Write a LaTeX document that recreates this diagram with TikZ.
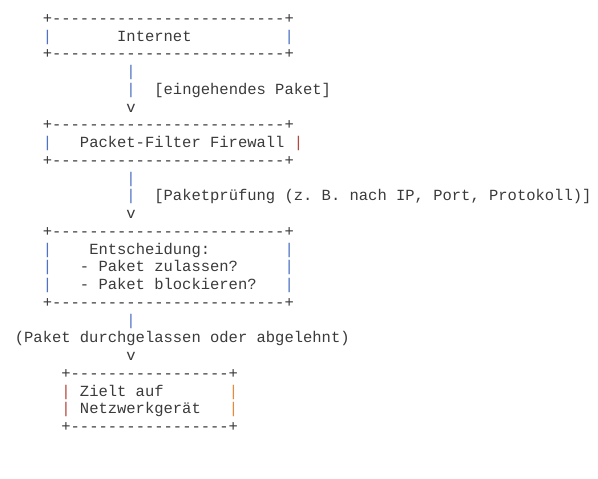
\documentclass[tikz,border=0pt]{standalone}
\usepackage{fontspec}
\setmonofont{Liberation Mono}
\definecolor{ink}{HTML}{3A3A3A}
\definecolor{pipeblue}{HTML}{4F72C2}
\definecolor{pipered}{HTML}{B5473F}
\definecolor{pipeorange}{HTML}{E08C3C}
\tikzset{
  txt/.style={anchor=base west, inner sep=0pt, outer sep=0pt, text=ink,
              font=\fontsize{15.5}{17.7}\selectfont\ttfamily},
  bluepipe/.style={txt, text=pipeblue},
  redpipe/.style={txt, text=pipered},
  orangepipe/.style={txt, text=pipeorange}
}
\newcommand\cellat[2]{({14.85+9.3*#1},{455.5-17.74*#2})}
\begin{document}
\begin{tikzpicture}[x=1pt,y=1pt]
\useasboundingbox (0,0) rectangle (598,479);
\fill[white] (0,0) rectangle (598,479);
% Internet box
\node[txt] (inettop) at \cellat{3}{0} {+-------------------------+};
\node[bluepipe] (inetl) at \cellat{3}{1} {|};
\node[txt] (inet) at \cellat{11}{1} {Internet};
\node[bluepipe] (inetr) at \cellat{29}{1} {|};
\node[txt] (inetbot) at \cellat{3}{2} {+-------------------------+};
% arrow 1
\node[bluepipe] (a1p1) at \cellat{12}{3} {|};
\node[bluepipe] (a1p2) at \cellat{12}{4} {|};
\node[txt] (a1lab) at \cellat{15}{4} {[eingehendes Paket]};
\node[txt] (a1v) at \cellat{12}{5} {v};
% Firewall box
\node[txt] (fwtop) at \cellat{3}{6} {+-------------------------+};
\node[bluepipe] (fwl) at \cellat{3}{7} {|};
\node[txt] (fw) at \cellat{7}{7} {Packet-Filter Firewall};
\node[redpipe] (fwr) at \cellat{30}{7} {|};
\node[txt] (fwbot) at \cellat{3}{8} {+-------------------------+};
% arrow 2
\node[bluepipe] (a2p1) at \cellat{12}{9} {|};
\node[bluepipe] (a2p2) at \cellat{12}{10} {|};
\node[txt] (a2lab) at \cellat{15}{10} {[Paketprüfung (z. B. nach IP, Port, Protokoll)]};
\node[txt] (a2v) at \cellat{12}{11} {v};
% Decision box
\node[txt] (dtop) at \cellat{3}{12} {+-------------------------+};
\node[bluepipe] (dl1) at \cellat{3}{13} {|};
\node[txt] (d1) at \cellat{8}{13} {Entscheidung:};
\node[bluepipe] (dr1) at \cellat{29}{13} {|};
\node[bluepipe] (dl2) at \cellat{3}{14} {|};
\node[txt] (d2) at \cellat{7}{14} {- Paket zulassen?};
\node[bluepipe] (dr2) at \cellat{29}{14} {|};
\node[bluepipe] (dl3) at \cellat{3}{15} {|};
\node[txt] (d3) at \cellat{7}{15} {- Paket blockieren?};
\node[bluepipe] (dr3) at \cellat{29}{15} {|};
\node[txt] (dbot) at \cellat{3}{16} {+-------------------------+};
% arrow 3
\node[bluepipe] (a3p1) at \cellat{12}{17} {|};
\node[txt] (a3lab) at \cellat{0}{18} {(Paket durchgelassen oder abgelehnt)};
\node[txt] (a3v) at \cellat{12}{19} {v};
% Target box
\node[txt] (ttop) at \cellat{5}{20} {+-----------------+};
\node[redpipe] (tl1) at \cellat{5}{21} {|};
\node[txt] (t1) at \cellat{7}{21} {Zielt auf};
\node[orangepipe] (tr1) at \cellat{23}{21} {|};
\node[redpipe] (tl2) at \cellat{5}{22} {|};
\node[txt] (t2) at \cellat{7}{22} {Netzwerkgerät};
\node[orangepipe] (tr2) at \cellat{23}{22} {|};
\node[txt] (tbot) at \cellat{5}{23} {+-----------------+};
\end{tikzpicture}
\end{document}
